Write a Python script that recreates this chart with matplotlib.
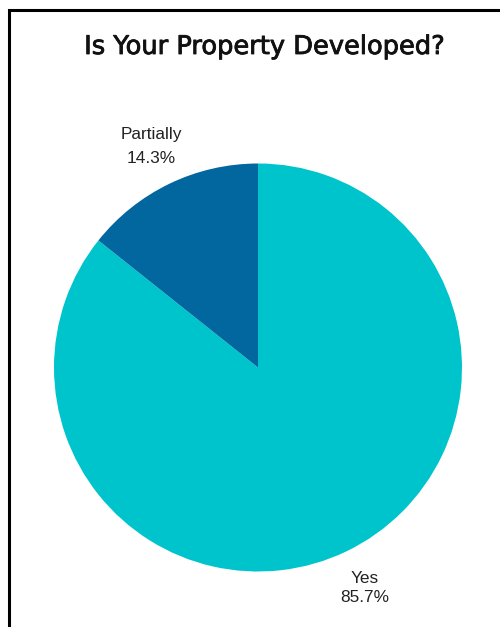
import matplotlib
matplotlib.use("Agg")
import matplotlib.pyplot as plt
import matplotlib.patheffects as pe
from matplotlib.patches import Rectangle

# Data
categories = ["Yes", "Partially"]
shares = [85.7, 14.3]
colors = ["#00C4CC", "#03679F"]
title = "Is Your Property Developed?"

W, H, DPI = 500, 627, 100
fig = plt.figure(figsize=(W / DPI, H / DPI), dpi=DPI)
fig.patch.set_facecolor("white")

# outer frame, runs off the right and bottom edges
fig.patches.append(Rectangle((9 / W, -0.1), 1.2, 1 - 10 / H + 0.1,
                             transform=fig.transFigure, fill=False,
                             edgecolor="black", linewidth=2.2))

# pie axes: centre (258, 367) px, radius 204 px
cx, cy, r = 258, 367.5, 204
ax = fig.add_axes([(cx - r) / W, (H - cy - r) / H, 2 * r / W, 2 * r / H])

labels = [f"{c}\n{v:.1f}%" for c, v in zip(categories, shares)]
wedges, texts = ax.pie(shares, labels=labels, colors=colors,
                       startangle=90, counterclock=False,
                       labeldistance=1.2, radius=1,
                       wedgeprops=dict(linewidth=0),
                       textprops=dict(fontsize=12.4, color="#222222",
                                      family="Liberation Sans"))
for t, ls in zip(texts, [1.35, 1.75]):
    t.set_ha("center")
    t.set_va("center")
    t.set_linespacing(ls)

ax.set_xlim(-1, 1)
ax.set_ylim(-1, 1)
ax.set_aspect("equal")
ax.axis("off")

fig.text(265 / W, 1 - 47 / H, title, ha="center", va="center",
         fontsize=18.5, color="#111111", family="DejaVu Sans",
         path_effects=[pe.withStroke(linewidth=0.6, foreground="#111111")])

fig.savefig("out.png", dpi=DPI)
